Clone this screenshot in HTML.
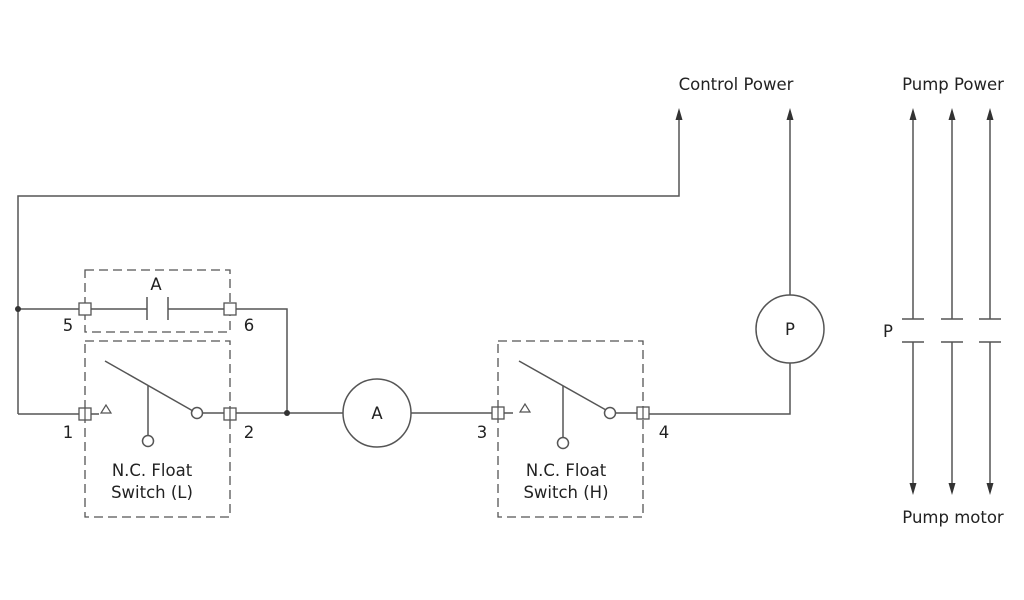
<!DOCTYPE html>
<html><head><meta charset="utf-8"><style>html,body{margin:0;padding:0;background:#fff}svg{display:block}text{font-family:"DejaVu Sans","Liberation Sans",sans-serif;fill:#222}</style></head><body>
<svg width="1024" height="600" viewBox="0 0 1024 600">
<g stroke="#555" stroke-width="1.5" fill="none">
<polyline points="18,414 18,196 679,196 679,118"/>
<line x1="790" y1="295" x2="790" y2="118"/>
<circle cx="790" cy="329" r="34" fill="#fff"/>
<polyline points="790,363 790,414 649,414"/>
<line x1="18" y1="309" x2="147" y2="309"/>
<line x1="147" y1="297" x2="147" y2="320"/>
<line x1="168" y1="297" x2="168" y2="320"/>
<polyline points="168,309 287,309 287,414"/>
<line x1="18" y1="414" x2="99" y2="414"/>
<path d="M106,405 L101,413 L111,413 Z" stroke-width="1.2"/>
<line x1="105" y1="361" x2="193" y2="411"/>
<line x1="148" y1="386" x2="148" y2="436"/>
<circle cx="148" cy="441" r="5.5"/>
<circle cx="197" cy="413" r="5.5"/>
<line x1="203" y1="413" x2="343" y2="413"/>
<circle cx="377" cy="413" r="34"/>
<line x1="411" y1="413" x2="513" y2="413"/>
<path d="M525,404 L520,412 L530,412 Z" stroke-width="1.2"/>
<line x1="519" y1="361" x2="606" y2="410"/>
<line x1="563" y1="386" x2="563" y2="438"/>
<circle cx="563" cy="443" r="5.5"/>
<circle cx="610" cy="413" r="5.5"/>
<line x1="616" y1="413" x2="649" y2="413"/>
<g stroke-dasharray="9,5" stroke-width="1.3">
<rect x="85" y="270" width="145" height="62"/>
<rect x="85" y="341" width="145" height="176"/>
<rect x="498" y="341" width="145" height="176"/>
</g>
<g fill="#fff" stroke-width="1.3">
<rect x="79" y="303" width="12" height="12"/><rect x="224" y="303" width="12" height="12"/>
<rect x="79" y="408" width="12" height="12"/><rect x="224" y="408" width="12" height="12"/>
<rect x="492" y="407" width="12" height="12"/><rect x="637" y="407" width="12" height="12"/>
</g>
<g stroke-width="1.2"><line x1="85" y1="408" x2="85" y2="420"/><line x1="230" y1="408" x2="230" y2="420"/><line x1="498" y1="407" x2="498" y2="419"/><line x1="643" y1="407" x2="643" y2="419"/></g>
<g>
<line x1="913" y1="319" x2="913" y2="118"/>
<line x1="952" y1="319" x2="952" y2="118"/>
<line x1="990" y1="319" x2="990" y2="118"/>
<line x1="913" y1="342" x2="913" y2="485"/>
<line x1="952" y1="342" x2="952" y2="485"/>
<line x1="990" y1="342" x2="990" y2="485"/>
<line x1="902" y1="319" x2="924" y2="319"/><line x1="941" y1="319" x2="963" y2="319"/><line x1="979" y1="319" x2="1001" y2="319"/>
<line x1="902" y1="342" x2="924" y2="342"/><line x1="941" y1="342" x2="963" y2="342"/><line x1="979" y1="342" x2="1001" y2="342"/>
</g>
</g>
<g fill="#333">
<path d="M679,108 L675.5,120 L682.5,120 Z"/>
<path d="M790,108 L786.5,120 L793.5,120 Z"/>
<path d="M913,108 L909.5,120 L916.5,120 Z"/>
<path d="M952,108 L948.5,120 L955.5,120 Z"/>
<path d="M990,108 L986.5,120 L993.5,120 Z"/>
<path d="M913,495 L909.5,483 L916.5,483 Z"/>
<path d="M952,495 L948.5,483 L955.5,483 Z"/>
<path d="M990,495 L986.5,483 L993.5,483 Z"/>
</g>
<circle cx="18" cy="309" r="3" fill="#333"/><circle cx="287" cy="413" r="3" fill="#333"/>
<g font-size="16.5">
<text x="736" y="90" text-anchor="middle">Control Power</text>
<text x="953" y="90" text-anchor="middle">Pump Power</text>
<text x="953" y="523" text-anchor="middle">Pump motor</text>
<text x="888" y="337" text-anchor="middle">P</text>
<text x="790" y="335" text-anchor="middle">P</text>
<text x="377" y="419" text-anchor="middle">A</text>
<text x="156" y="290" text-anchor="middle">A</text>
<text x="68" y="331" text-anchor="middle">5</text>
<text x="249" y="331" text-anchor="middle">6</text>
<text x="68" y="438" text-anchor="middle">1</text>
<text x="249" y="438" text-anchor="middle">2</text>
<text x="482" y="438" text-anchor="middle">3</text>
<text x="664" y="438" text-anchor="middle">4</text>
<text x="152" y="476" text-anchor="middle">N.C. Float</text>
<text x="152" y="498" text-anchor="middle">Switch (L)</text>
<text x="566" y="476" text-anchor="middle">N.C. Float</text>
<text x="566" y="498" text-anchor="middle">Switch (H)</text>
</g>
</svg>
</body></html>
